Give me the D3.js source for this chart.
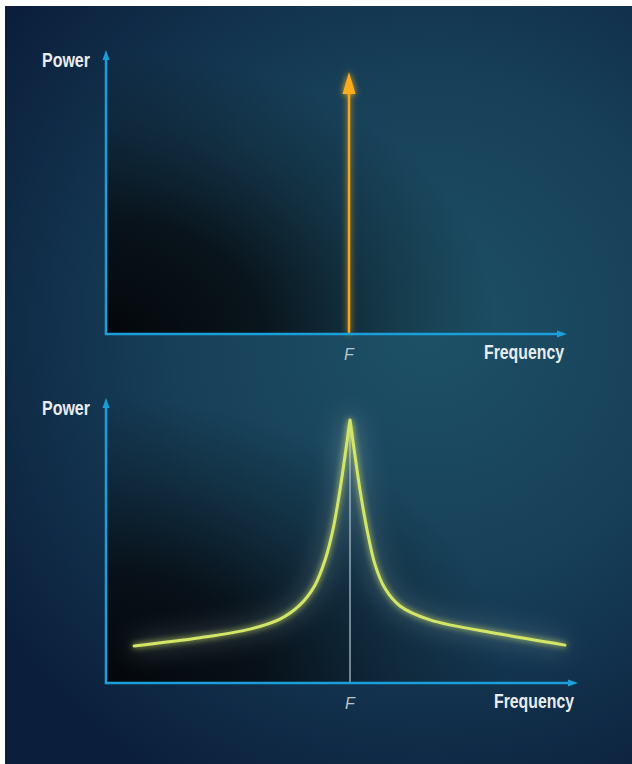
<!DOCTYPE html>
<html>
<head>
<meta charset="utf-8">
<script src="https://cdn.jsdelivr.net/npm/d3@7"></script>
<style>
  body { margin: 0; background: #fff; }
</style>
</head>
<body>
<svg id="svg" width="632" height="764"></svg>
<script>
// frequency is in units of F, power relative to the peak
const markLabel = 'F'
const yLabel = 'Power'
const xLabel = 'Frequency'

// top: a single pure tone at F
const lineFreq = [1]
const linePower = [1]

// bottom: broadened peak around F
const curveFreq = [0.115, 0.385, 0.59, 0.713, 0.795, 0.857, 0.898, 0.93, 0.959, 0.98, 1.0,
  1.02, 1.041, 1.07, 1.102, 1.143, 1.205, 1.328, 1.615, 1.881]
const curvePower = [0.141, 0.172, 0.205, 0.243, 0.297, 0.373, 0.468, 0.582, 0.734, 0.867, 1.0,
  0.867, 0.734, 0.582, 0.452, 0.36, 0.293, 0.24, 0.186, 0.144]

const svg = d3.select('#svg')
const defs = svg.append('defs')

const bg = defs.append('radialGradient').attr('id', 'bg')
  .attr('gradientUnits', 'userSpaceOnUse')
  .attr('cx', 430).attr('cy', 330).attr('r', 520)
bg.append('stop').attr('offset', '0%').attr('stop-color', '#1d5166')
bg.append('stop').attr('offset', '50%').attr('stop-color', '#173f58')
bg.append('stop').attr('offset', '100%').attr('stop-color', '#0b1f3c')

const glow = defs.append('filter').attr('id', 'glow')
  .attr('x', '-50%').attr('y', '-50%').attr('width', '200%').attr('height', '200%')
glow.append('feGaussianBlur').attr('in', 'SourceGraphic').attr('stdDeviation', 3).attr('result', 'b')
const merge = glow.append('feMerge')
merge.append('feMergeNode').attr('in', 'b')
merge.append('feMergeNode').attr('in', 'SourceGraphic')

const haze = defs.append('filter').attr('id', 'haze')
  .attr('x', '-50%').attr('y', '-50%').attr('width', '200%').attr('height', '200%')
haze.append('feGaussianBlur').attr('stdDeviation', 12)

svg.append('rect')
  .attr('x', 5).attr('y', 6).attr('width', 627).attr('height', 758)
  .attr('fill', 'url(#bg)')

const panels = [
  { id: 'a', left: 106, base: 334, top: 50, right: 567, fx: 349, peak: 72, labelY: 67, xLabelY: 359, xLabelX: 564 },
  { id: 'b', left: 106, base: 683, top: 398, right: 578, fx: 350, peak: 420, labelY: 415, xLabelY: 708, xLabelX: 574 }
]

const axisColour = '#1b9fda'
const textFont = '"Liberation Sans", Arial, sans-serif'

panels.forEach((p, i) => {
  const x = d3.scaleLinear().domain([0, 1]).range([p.left, p.fx])
  const y = d3.scaleLinear().domain([0, 1]).range([p.base, p.peak])

  // dark shading inside the plot area, heaviest at bottom-left
  const w = p.right - p.left
  const h = p.base - p.top
  const shade = defs.append('radialGradient').attr('id', 'shade' + p.id)
    .attr('gradientUnits', 'userSpaceOnUse')
    .attr('cx', 0).attr('cy', 0).attr('r', 1)
    .attr('gradientTransform', `translate(${p.left},${p.base}) scale(${w * 0.85},${h * 1.0})`)
  shade.append('stop').attr('offset', '0%').attr('stop-color', '#04070a').attr('stop-opacity', 1)
  shade.append('stop').attr('offset', '40%').attr('stop-color', '#060c11').attr('stop-opacity', 0.85)
  shade.append('stop').attr('offset', '75%').attr('stop-color', '#0a1820').attr('stop-opacity', 0.35)
  shade.append('stop').attr('offset', '100%').attr('stop-color', '#0a1820').attr('stop-opacity', 0)
  svg.append('rect')
    .attr('x', p.left).attr('y', p.top)
    .attr('width', w).attr('height', h)
    .attr('fill', `url(#shade${p.id})`)

  const g = svg.append('g')

  if (i === 0) {
    const f = lineFreq[0]
    const pw = linePower[0]
    const tone = g.append('g').attr('filter', 'url(#glow)')
    tone.append('line')
      .attr('x1', x(f)).attr('x2', x(f))
      .attr('y1', y(0)).attr('y2', y(pw) + 18)
      .attr('stroke', '#f6a81e').attr('stroke-width', 2.5)
    tone.append('path')
      .attr('d', `M${x(f)},${y(pw)} L${x(f) + 6.5},${y(pw) + 22} L${x(f) - 6.5},${y(pw) + 22} Z`)
      .attr('fill', '#f8ad1f')
  } else {
    const pts = curveFreq.map((d, k) => [d, curvePower[k]])
    const iPeak = curvePower.indexOf(d3.max(curvePower))
    const halves = [pts.slice(0, iPeak + 1), pts.slice(iPeak)]
    const line = d3.line()
      .x(d => x(d[0]))
      .y(d => y(d[1]))
      .curve(d3.curveCatmullRom.alpha(0.5))
    g.append('path')
      .attr('d', line(pts))
      .attr('fill', 'none')
      .attr('stroke', '#9fb6bf')
      .attr('stroke-opacity', 0.4)
      .attr('stroke-width', 10)
      .attr('filter', 'url(#haze)')
    g.append('line')
      .attr('x1', x(1)).attr('x2', x(1))
      .attr('y1', y(0)).attr('y2', y(1))
      .attr('stroke', '#a9bcc6').attr('stroke-width', 1.3)
    g.append('path')
      .attr('d', halves.map(line).join(''))
      .attr('fill', 'none')
      .attr('stroke', '#d4e667')
      .attr('stroke-width', 3)
      .attr('stroke-linecap', 'round')
      .attr('stroke-linejoin', 'round')
      .attr('filter', 'url(#glow)')
  }

  // axes with arrow heads
  g.append('line')
    .attr('x1', p.left).attr('x2', p.left)
    .attr('y1', p.base).attr('y2', p.top + 8)
    .attr('stroke', axisColour).attr('stroke-width', 2.5)
  g.append('path')
    .attr('d', `M${p.left},${p.top} L${p.left + 3.5},${p.top + 10} L${p.left - 3.5},${p.top + 10} Z`)
    .attr('fill', axisColour)
  g.append('line')
    .attr('x1', p.left - 1.2).attr('x2', p.right - 8)
    .attr('y1', p.base).attr('y2', p.base)
    .attr('stroke', axisColour).attr('stroke-width', 2.5)
  g.append('path')
    .attr('d', `M${p.right},${p.base} L${p.right - 10},${p.base - 3.5} L${p.right - 10},${p.base + 3.5} Z`)
    .attr('fill', axisColour)

  g.append('text')
    .text(yLabel)
    .attr('x', 42).attr('y', p.labelY)
    .attr('textLength', 48)
    .attr('lengthAdjust', 'spacingAndGlyphs')
    .style('font-family', textFont)
    .style('font-weight', 'bold')
    .style('font-size', '20.5px')
    .style('fill', '#e9ecee')

  g.append('text')
    .text(xLabel)
    .attr('x', p.xLabelX - 80).attr('y', p.xLabelY)
    .attr('textLength', 80)
    .attr('lengthAdjust', 'spacingAndGlyphs')
    .style('font-family', textFont)
    .style('font-weight', 'bold')
    .style('font-size', '20.5px')
    .style('fill', '#e9ecee')

  g.append('text')
    .text(markLabel)
    .attr('x', x(1)).attr('y', p.base + 26)
    .style('font-family', textFont)
    .style('font-style', 'italic')
    .style('font-size', '16px')
    .style('text-anchor', 'middle')
    .style('fill', '#b9c6cc')
})
</script>
</body>
</html>
